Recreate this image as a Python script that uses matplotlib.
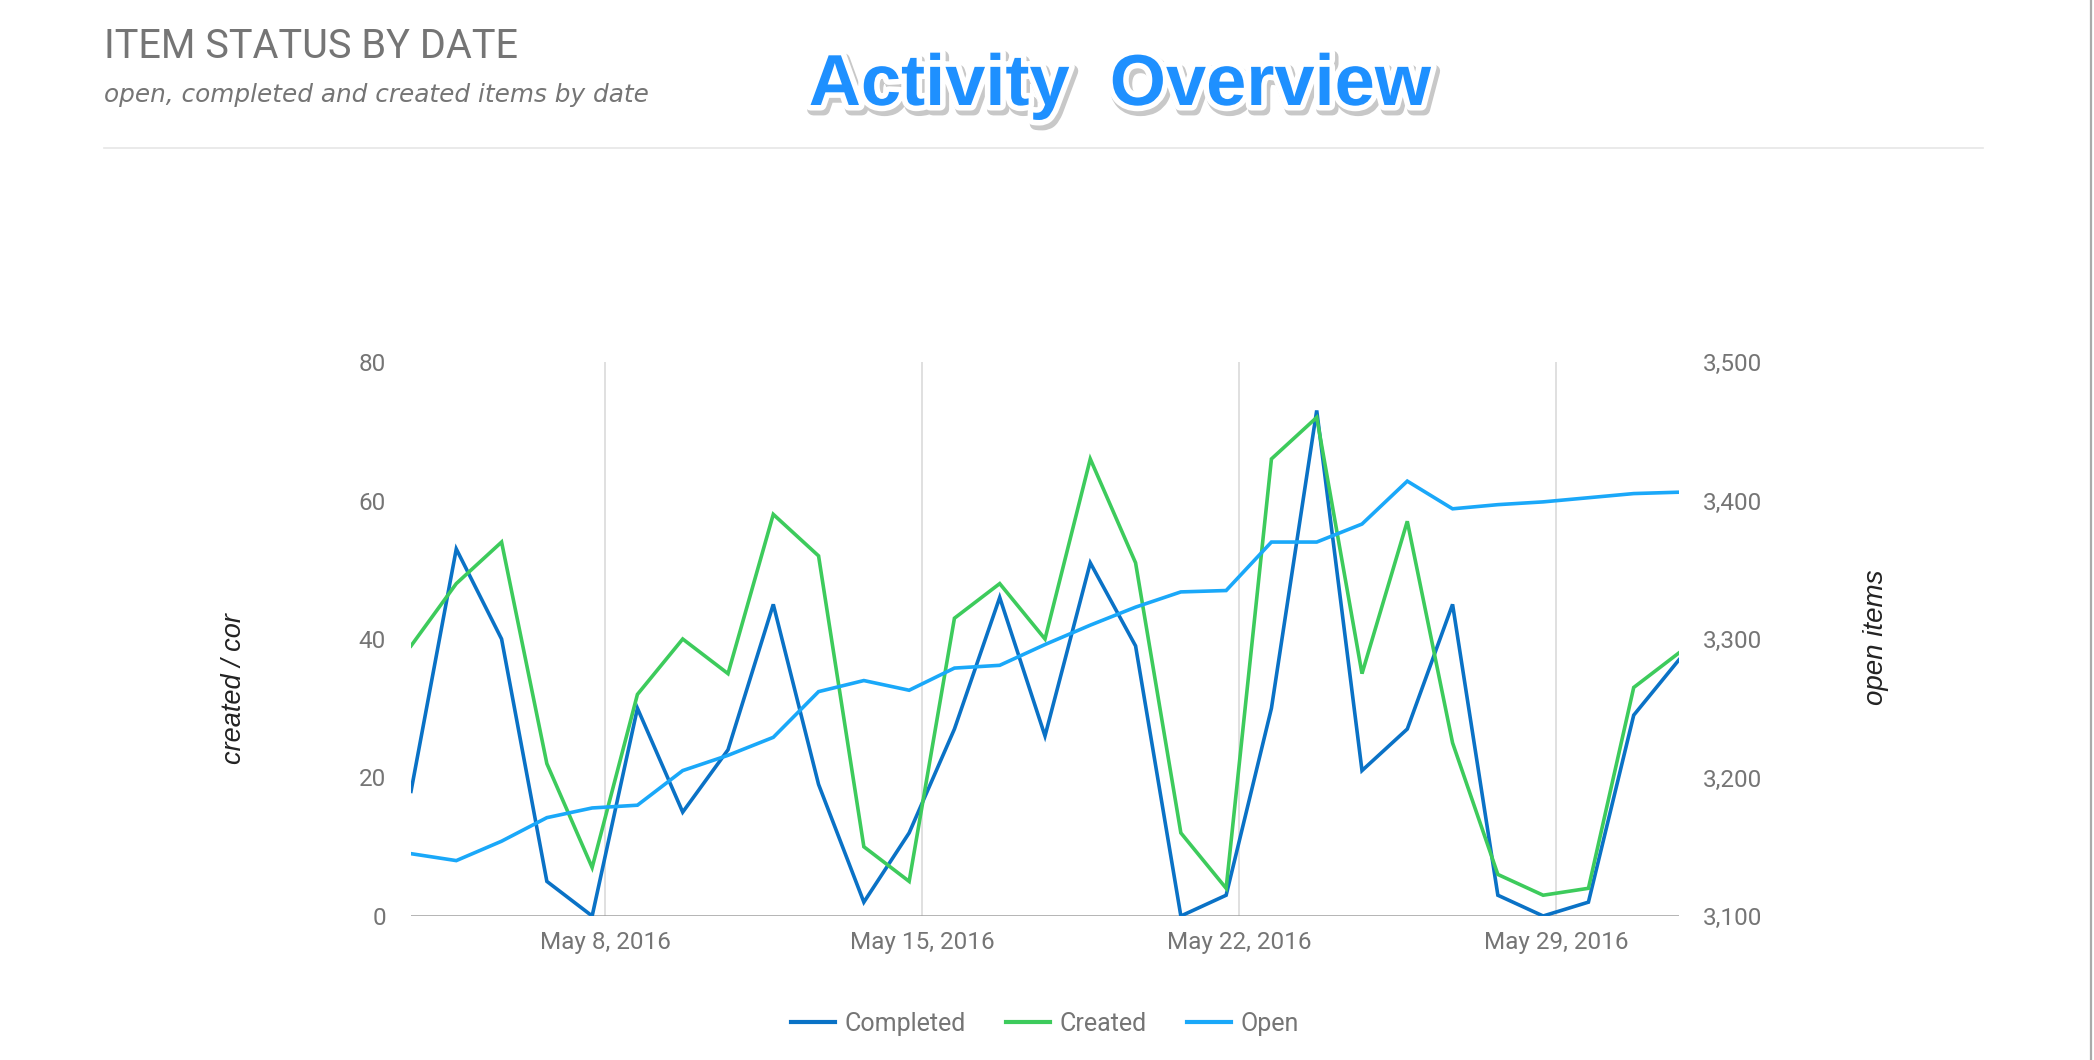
import datetime as dt
import matplotlib
matplotlib.use("Agg")
import matplotlib.pyplot as plt
import matplotlib.dates as mdates
import matplotlib.patheffects as pe
from matplotlib.lines import Line2D
from matplotlib.ticker import FuncFormatter

# ---------------- data ----------------
start = dt.datetime(2016, 5, 3, 17)
dates = [start + dt.timedelta(days=i) for i in range(29)]

completed = [18, 53, 40, 5, 0, 30, 15, 24, 45, 19, 2, 12, 27, 46, 26,
             51, 39, 0, 3, 30, 73, 21, 27, 45, 3, 0, 2, 29, 37]
created = [39, 48, 54, 22, 7, 32, 40, 35, 58, 52, 10, 5, 43, 48, 40,
           66, 51, 12, 4, 66, 72, 35, 57, 25, 6, 3, 4, 33, 38]
open_items = [3145, 3140, 3154, 3171, 3178, 3180, 3205, 3216, 3229, 3262,
              3270, 3263, 3279, 3281, 3296, 3310, 3323, 3334, 3335, 3370,
              3370, 3383, 3414, 3394, 3397, 3399, 3402, 3405, 3406]

series_names = ["Completed", "Created", "Open"]
tick_dates = [dt.datetime(2016, 5, 8), dt.datetime(2016, 5, 15),
              dt.datetime(2016, 5, 22), dt.datetime(2016, 5, 29)]
left_ticks = [0, 20, 40, 60, 80]
right_ticks = [3100, 3200, 3300, 3400, 3500]

c_completed = "#0A72C6"
c_created = "#3DCB5C"
c_open = "#1AA8F9"
grey = "#757575"

W, H = 2094, 1060
fig = plt.figure(figsize=(W / 100, H / 100), dpi=100)
fig.patch.set_facecolor("white")

def fx(x):
    return x / W

def fy(y):
    return 1 - y / H

ax = fig.add_axes([fx(411), fy(916), fx(1679) - fx(411), fy(362) - fy(916)])
ax2 = ax.twinx()

lw = 2.6
ax.plot(dates, completed, color=c_completed, lw=lw, zorder=3, solid_joinstyle="miter")
ax.plot(dates, created, color=c_created, lw=lw, zorder=3, solid_joinstyle="miter")
ax2.plot(dates, open_items, color=c_open, lw=lw, zorder=3, solid_joinstyle="miter")

ax.set_xlim(dates[0], dates[-1])
ax.set_ylim(0, 80)
ax2.set_ylim(3100, 3500)
ax.set_yticks(left_ticks)
ax2.set_yticks(right_ticks)
ax2.yaxis.set_major_formatter(FuncFormatter(lambda v, p: f"{int(v):,}"))
ax.set_xticks(tick_dates)
ax.xaxis.set_major_formatter(FuncFormatter(
    lambda v, p: mdates.num2date(v).strftime("%b ") + str(mdates.num2date(v).day) + ", 2016"))

for a in (ax, ax2):
    for s in a.spines.values():
        s.set_visible(False)
    a.tick_params(length=0, labelsize=17.5, labelcolor=grey)
    for lab in a.get_yticklabels() + a.get_xticklabels():
        lab.set_fontfamily("Roboto")

ax.tick_params(axis="y", pad=18)
ax2.tick_params(axis="y", pad=17)
ax.tick_params(axis="x", pad=11)

ax.grid(axis="x", color="#e0e0e0", lw=1.4, zorder=0)
ax.grid(axis="y", visible=False)
ax2.grid(False)
ax.axhline(0, color="#9e9e9e", lw=1.8, zorder=2)

fig.text(fx(234), fy(764), "created / cor", rotation=90, ha="center", va="bottom",
         fontsize=19.5, style="italic", color="#222222", family="Liberation Sans")
fig.text(fx(1876), fy(637), "open items", rotation=90, ha="center", va="center",
         fontsize=20, style="italic", color="#222222", family="Liberation Sans")

# legend
handles = [Line2D([], [], color=c, lw=3) for c in (c_completed, c_created, c_open)]
leg = fig.legend(handles, series_names, loc="center", bbox_to_anchor=(fx(1045), fy(1024)),
                 ncol=3, frameon=False, handlelength=1.75, handletextpad=0.4,
                 columnspacing=1.6, prop={"family": "Roboto", "size": 18})
for t in leg.get_texts():
    t.set_color(grey)

# headers
fig.text(fx(104), fy(58), "ITEM STATUS BY DATE", ha="left", va="baseline",
         fontsize=28.5, color=grey, family="Roboto")
fig.text(fx(104), fy(102), "open, completed and created items by date", ha="left",
         va="baseline", fontsize=17.8, style="italic", color=grey, family="DejaVu Sans")

fig.text(fx(1120), fy(105), "Activity  Overview", ha="center", va="baseline",
         fontsize=52, fontweight="bold", color="#1E90FF", family="Liberation Sans",
         path_effects=[pe.Stroke(offset=(2, -3), linewidth=9, foreground="#c8c8c8"),
                       pe.Stroke(linewidth=8, foreground="white"),
                       pe.Normal()])

fig.add_artist(Line2D([fx(104), fx(1983)], [fy(148), fy(148)], color="#e6e6e6", lw=1.2))
fig.add_artist(Line2D([fx(2091), fx(2091)], [0, 1], color="#aaaaaa", lw=1.6))

fig.savefig("out.png", dpi=100, facecolor="white")
